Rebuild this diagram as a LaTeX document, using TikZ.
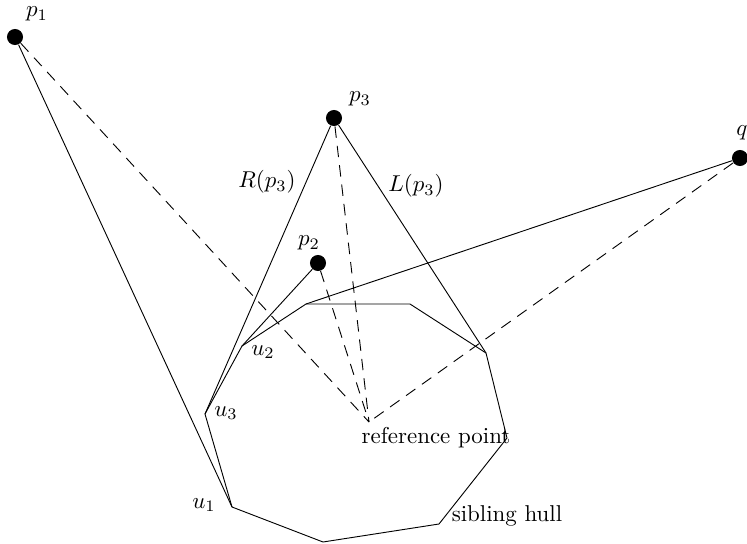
\documentclass[tikz,border=0pt]{standalone}
\usepackage{tikz}

\begin{document}
\begin{tikzpicture}[x=0.436pt,y=-0.436pt]
  \tikzstyle{pt}=[circle,fill=black,inner sep=0pt,minimum size=7pt]
  \tikzstyle{lbl}=[inner sep=0pt]
  \tikzstyle{ray}=[dash pattern=on 5pt off 3.5pt]
  \useasboundingbox (0,0) rectangle (747,544);
  % query points
  \node[pt] (p1) at (15,37) {};
  \node[pt] (p2) at (318,263) {};
  \node[pt] (p3) at (334,118) {};
  \node[pt] (q) at (740,158) {};
  \node[lbl] at (37,14) {$p_1$};
  \node[lbl] at (309,243) {$p_2$};
  \node[lbl] at (360,99) {$p_3$};
  \node[lbl] at (742,133) {$q$};
  % sibling hull
  \coordinate (u1) at (232,507);
  \coordinate (u3) at (205,414);
  \coordinate (u2) at (242,346);
  \coordinate (h1) at (306,304);
  \coordinate (h2) at (410,304);
  \coordinate (h3) at (486,353);
  \coordinate (h4) at (507,438);
  \coordinate (h5) at (439,524);
  \coordinate (h6) at (323,542);
  \draw (u1) -- (u3) -- (u2) -- (h1) -- (h2) -- (h3) -- (h4) -- (h5) -- (h6) -- cycle;
  \node[lbl] at (204,505) {$u_1$};
  \node[lbl] at (263,352) {$u_2$};
  \node[lbl] at (226,413) {$u_3$};
  \node[lbl] at (507,516) {sibling hull};
  % reference point
  \coordinate (r) at (369,422);
  \node[lbl] at (436,438) {reference point};
  % tangents
  \draw (p1) -- (u1);
  \draw (p2) -- (u2);
  \draw (p3) -- (u3);
  \draw (p3) -- (h3);
  \draw (q) -- (h1);
  \node[lbl] at (267,182) {$R(p_3)$};
  \node[lbl] at (416,186) {$L(p_3)$};
  % rays to reference point
  \draw[ray] (p1) -- (r);
  \draw[ray] (p2) -- (r);
  \draw[ray] (p3) -- (r);
  \draw[ray] (q) -- (r);
\end{tikzpicture}
\end{document}
